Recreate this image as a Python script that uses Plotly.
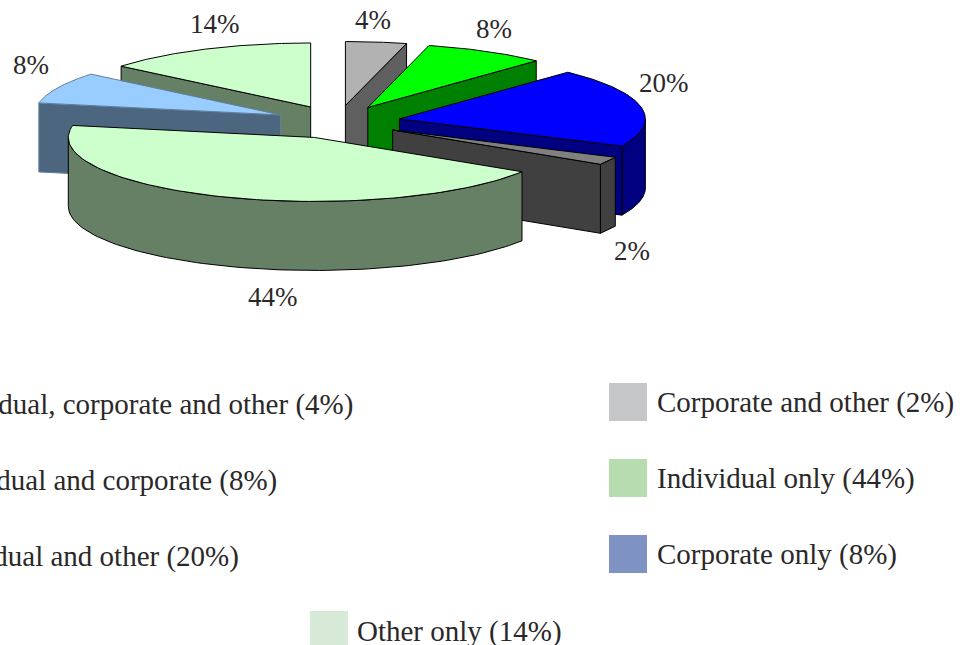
import numpy as np
import plotly.graph_objects as go

categories = ["Individual, corporate and other", "Individual and corporate", "Individual and other",
              "Corporate and other", "Individual only", "Corporate only", "Other only"]
values = [4, 8, 20, 2, 44, 8, 14]

top_colors = ["#b2b2b2", "#00ff00", "#0000ff", "#808080", "#ccffcc", "#99ccff", "#ccffcc"]
side_colors = ["#5f5f5f", "#008000", "#000080", "#404040", "#668066", "#4d6680", "#668066"]
edge_colors = ["#000000", "#000000", "#000000", "#000000", "#000000", "#5f7f9f", "#000000"]
legend_colors = ["#c6c7c9", "#c6c7c9", "#c6c7c9", "#c6c7c9", "#b6dcb0", "#7f92c4", "#d7ead7"]

FONT = "Liberation Serif"
TEXT = "#2b2829"
CX, CY, RX, RY, EX, EY, H = 337.5, 122, 246, 64, 63, 16.6, 69
DRAW_ORDER = [6, 0, 1, 5, 2, 3, 4]
LABEL_POS = [(373, 20), (494, 29), (664, 83), (632, 251), (273, 297), (31, 65), (215, 24)]

fig = go.Figure()


def poly(x, y, fill, line):
    fig.add_trace(go.Scatter(x=list(x), y=list(y), mode="lines", fill="toself", fillcolor=fill,
                             line=dict(color=line, width=1), hoverinfo="skip", showlegend=False))


edges = np.cumsum([0] + values) * 3.6
for i in DRAW_ORDER:
    a0, a1 = np.radians(edges[i]), np.radians(edges[i + 1])
    mid = (a0 + a1) / 2
    ax, ay = CX + EX * np.sin(mid), CY - EY * np.cos(mid)
    px = lambda t: ax + RX * np.sin(t)
    py = lambda t: ay - RY * np.cos(t)
    # outer rim, front part only
    lo, hi = max(a0, np.pi / 2), min(a1, 3 * np.pi / 2)
    if hi > lo:
        t = np.linspace(lo, hi, 90)
        poly(np.r_[px(t), px(t[::-1]), px(t[0])],
             np.r_[py(t), py(t[::-1]) + H, py(t[0])], side_colors[i], edge_colors[i])
    # radial faces that look toward the viewer
    for a, visible in ((a0, np.sin(a0) < -1e-9), (a1, np.sin(a1) > 1e-9)):
        if visible:
            poly([ax, px(a), px(a), ax, ax], [ay, py(a), py(a) + H, ay + H, ay],
                 side_colors[i], edge_colors[i])
    # top face
    t = np.linspace(a0, a1, 90)
    poly(np.r_[ax, px(t), ax], np.r_[ay, py(t), ay], top_colors[i], edge_colors[i])

for v, (x, y) in zip(values, LABEL_POS):
    fig.add_annotation(x=x, y=y, text=f"{v}%", showarrow=False,
                       font=dict(family=FONT, size=27, color=TEXT))

# legend: first column runs off the left edge of the page
LEGEND_SIZE = 29
left_ends = [355, 279, 241]
left_rows = [404, 480, 556]
for k in range(3):
    fig.add_annotation(x=left_ends[k], y=left_rows[k], xanchor="right", showarrow=False,
                       text=f"{categories[k]} ({values[k]}%)", font=dict(family=FONT, size=LEGEND_SIZE, color=TEXT))
right_rows = [402, 478, 554]
for k in range(3):
    j = k + 3
    fig.add_shape(type="rect", x0=609, x1=647, y0=right_rows[k] - 19, y1=right_rows[k] + 19,
                  fillcolor=legend_colors[j], line=dict(width=0), layer="below")
    fig.add_annotation(x=655, y=right_rows[k], xanchor="left", showarrow=False,
                       text=f"{categories[j]} ({values[j]}%)", font=dict(family=FONT, size=LEGEND_SIZE, color=TEXT))
fig.add_shape(type="rect", x0=310, x1=348, y0=611, y1=649, fillcolor=legend_colors[6],
              line=dict(width=0), layer="below")
fig.add_annotation(x=355, y=631, xanchor="left", showarrow=False,
                   text=f"{categories[6]} ({values[6]}%)", font=dict(family=FONT, size=LEGEND_SIZE, color=TEXT))

fig.update_layout(width=963, height=645, margin=dict(l=0, r=0, t=0, b=0),
                  paper_bgcolor="white", plot_bgcolor="white", showlegend=False,
                  xaxis=dict(range=[0, 963], visible=False, fixedrange=True),
                  yaxis=dict(range=[645, 0], visible=False, fixedrange=True))
fig.write_html("out.html", config=dict(displayModeBar=False),
               post_script="document.documentElement.style.overflow='hidden';document.body.style.margin='0';window.dispatchEvent(new Event('resize'));")
